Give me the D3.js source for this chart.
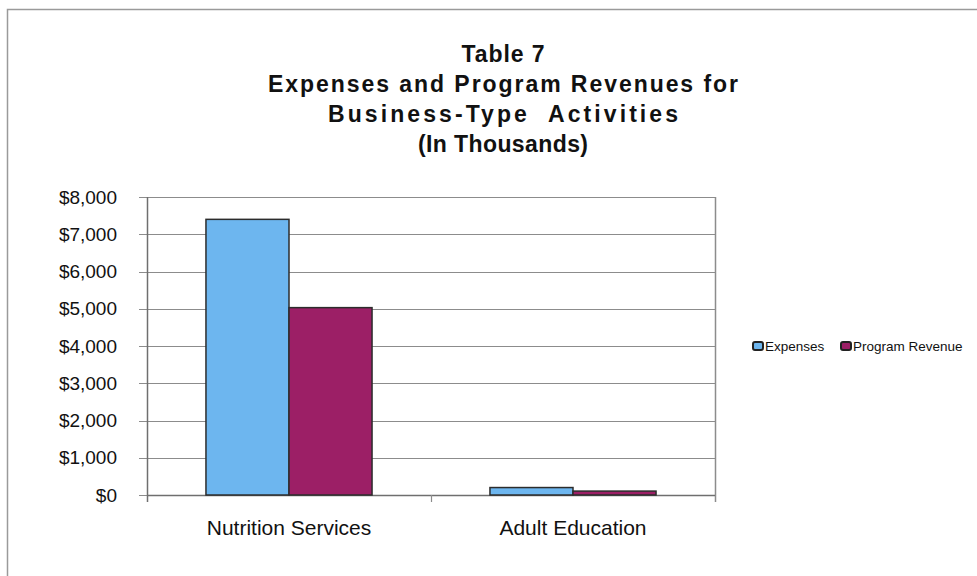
<!DOCTYPE html>
<html>
<head>
<meta charset="utf-8">
<script src="https://cdn.jsdelivr.net/npm/d3@7"></script>
<style>
  body { margin: 0; background: #fff; }
  text { font-family: "Liberation Sans", Arial, sans-serif; fill: #111; }
</style>
</head>
<body>
<div id="chart"></div>
<script>
// data (thousands of dollars)
var categories = ['Nutrition Services', 'Adult Education'];
var seriesNames = ['Expenses', 'Program Revenue'];
var expenses = [7400, 200];
var programRevenue = [5030, 105];
var yTicks = [0, 1000, 2000, 3000, 4000, 5000, 6000, 7000, 8000];
var titleLines = ['Table 7', 'Expenses and Program Revenues for', 'Business-Type  Activities', '(In Thousands)'];

var colors = ['#6db6ef', '#9c1f66'];

var W = 977, H = 576;
var plot = { left: 147, right: 715, top: 197, bottom: 495 };

var svg = d3.select('#chart').append('svg')
    .attr('width', W)
    .attr('height', H);

// outer chart frame
svg.append('rect')
    .attr('x', 7.5).attr('y', 9.5)
    .attr('width', W + 20).attr('height', H + 20)
    .attr('fill', 'none')
    .attr('stroke', '#9a9a9a')
    .attr('stroke-width', 1.5);

// title
var titleWidths = [83, 470, 350, 170];
svg.append('g').selectAll('text')
    .data(titleLines)
    .enter().append('text')
    .attr('x', 503)
    .attr('y', function (d, i) { return 62 + i * 30; })
    .attr('text-anchor', 'middle')
    .attr('font-size', 23)
    .attr('font-weight', 'bold')
    .style('white-space', 'pre')
    .attr('textLength', function (d, i) { return titleWidths[i]; })
    .attr('lengthAdjust', 'spacing')
    .text(function (d) { return d; });

var y = d3.scaleLinear().domain([0, 8000]).range([plot.bottom, plot.top]);
var x0 = d3.scaleBand().domain(categories).range([plot.left, plot.right]).paddingInner(0).paddingOuter(0);
var x1 = d3.scaleBand().domain(seriesNames).range([0, x0.bandwidth()]).paddingInner(0).paddingOuter(0.71);

// gridlines
svg.append('g').selectAll('line')
    .data(yTicks)
    .enter().append('line')
    .attr('x1', plot.left - 8).attr('x2', plot.right)
    .attr('y1', function (d) { return Math.round(y(d)) + 0.5; })
    .attr('y2', function (d) { return Math.round(y(d)) + 0.5; })
    .attr('stroke', '#8c8c8c')
    .attr('stroke-width', 1.2);

// plot border right
svg.append('line')
    .attr('x1', plot.right + 0.5).attr('x2', plot.right + 0.5)
    .attr('y1', plot.top).attr('y2', plot.bottom + 7)
    .attr('stroke', '#8c8c8c').attr('stroke-width', 1.5);

// y axis
var yAxis = d3.axisLeft(y)
    .tickValues(yTicks)
    .tickSize(0)
    .tickPadding(30)
    .tickFormat(function (d) { return '$' + d3.format(',')(d); });

var gy = svg.append('g')
    .attr('transform', 'translate(' + plot.left + ',0)')
    .call(yAxis);
gy.select('.domain').remove();
gy.selectAll('text')
    .attr('font-size', 19)
    .attr('fill', '#111')
    .style('font-family', '"Liberation Sans", Arial, sans-serif');

svg.append('line')
    .attr('x1', plot.left + 0.5).attr('x2', plot.left + 0.5)
    .attr('y1', plot.top).attr('y2', plot.bottom + 7)
    .attr('stroke', '#6f6f6f').attr('stroke-width', 1.5);

// x axis
svg.append('line')
    .attr('x1', plot.left).attr('x2', plot.right)
    .attr('y1', plot.bottom + 0.5).attr('y2', plot.bottom + 0.5)
    .attr('stroke', '#6f6f6f').attr('stroke-width', 1.5);

svg.append('g').selectAll('line')
    .data(categories.slice(1))
    .enter().append('line')
    .attr('x1', function (d) { return x0(d) + 0.5; })
    .attr('x2', function (d) { return x0(d) + 0.5; })
    .attr('y1', plot.bottom).attr('y2', plot.bottom + 7)
    .attr('stroke', '#8c8c8c').attr('stroke-width', 1.2);

svg.append('g').selectAll('text')
    .data(categories)
    .enter().append('text')
    .attr('x', function (d) { return x0(d) + x0.bandwidth() / 2; })
    .attr('y', 535)
    .attr('text-anchor', 'middle')
    .attr('font-size', 21)
    .text(function (d) { return d; });

// bars
var series = [expenses, programRevenue];
var groups = svg.append('g').selectAll('g')
    .data(categories)
    .enter().append('g')
    .attr('transform', function (d) { return 'translate(' + x0(d) + ',0)'; });

groups.selectAll('rect')
    .data(function (d, ci) {
        return seriesNames.map(function (s, si) { return { s: s, si: si, v: series[si][ci] }; });
    })
    .enter().append('rect')
    .attr('x', function (d) { return x1(d.s); })
    .attr('width', x1.bandwidth())
    .attr('y', function (d) { return y(d.v); })
    .attr('height', function (d) { return y(0) - y(d.v); })
    .attr('fill', function (d) { return colors[d.si]; })
    .attr('stroke', '#2c2c2c')
    .attr('stroke-width', 1.5);

// legend
var legendX = [753, 841];
var legend = svg.append('g').selectAll('g')
    .data(seriesNames)
    .enter().append('g')
    .attr('transform', function (d, i) { return 'translate(' + legendX[i] + ',346)'; });

legend.append('rect')
    .attr('x', 0).attr('y', -4)
    .attr('width', 10).attr('height', 8)
    .attr('rx', 2)
    .attr('fill', function (d, i) { return colors[i]; })
    .attr('stroke', '#222')
    .attr('stroke-width', 2);

legend.append('text')
    .attr('x', 12)
    .attr('y', 5)
    .attr('font-size', 13.5)
    .text(function (d) { return d; });
</script>
</body>
</html>
